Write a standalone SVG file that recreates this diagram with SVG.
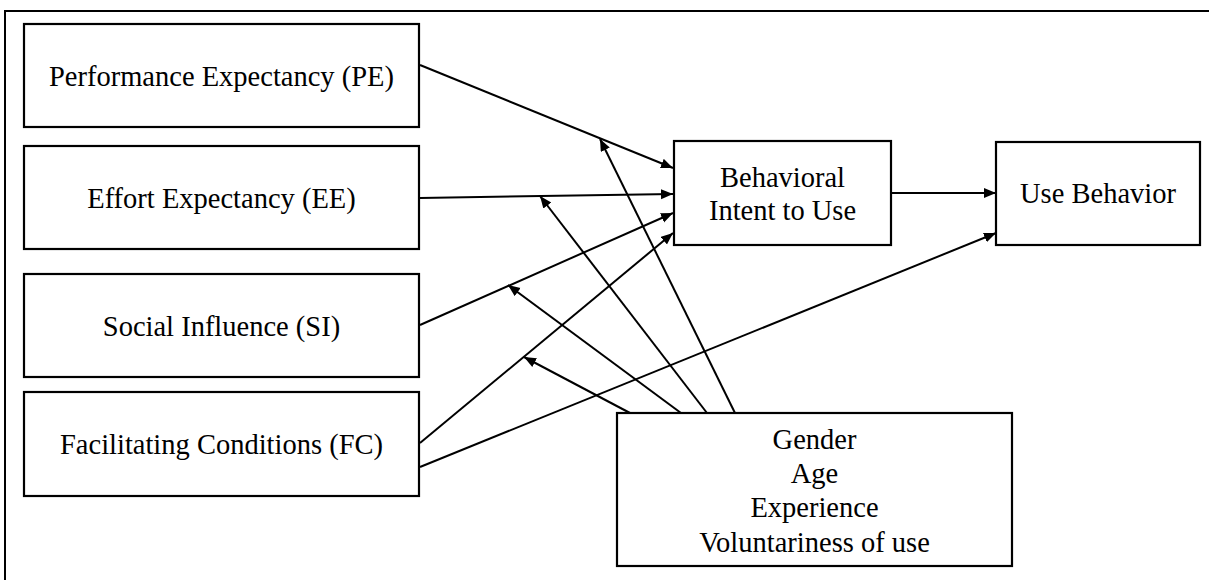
<svg xmlns="http://www.w3.org/2000/svg" width="1209" height="580" viewBox="0 0 1209 580">
<style>
.box{fill:#fff;stroke:#000;stroke-width:2.2}
.t{font-family:'Liberation Serif','Times New Roman',Times,serif;font-size:28.5px;fill:#000;text-anchor:middle}
.c line{stroke:#000;stroke-width:2;marker-end:url(#ah)}
</style>
<defs>
<marker id="ah" markerUnits="userSpaceOnUse" markerWidth="13" markerHeight="11" refX="12" refY="5" orient="auto">
<path d="M0,0 L12,5 L0,10 z" fill="#000"/>
</marker>
</defs>
<rect width="1209" height="580" fill="#fff"/>
<rect id="frame" x="5" y="11" width="1230" height="600" fill="none" stroke="#000" stroke-width="2"/>
<g id="PE"><rect class="box" x="24" y="24" width="395" height="103"/><text class="t" x="221.5" y="86">Performance Expectancy (PE)</text></g>
<g id="EE"><rect class="box" x="24" y="146" width="395" height="103"/><text class="t" x="221.5" y="208">Effort Expectancy (EE)</text></g>
<g id="SI"><rect class="box" x="24" y="274" width="395" height="103"/><text class="t" x="221.5" y="336">Social Influence (SI)</text></g>
<g id="FC"><rect class="box" x="24" y="392" width="395" height="104"/><text class="t" x="221.5" y="454">Facilitating Conditions (FC)</text></g>
<g id="BI"><rect class="box" x="674" y="141" width="217" height="104"/><text class="t" x="782.5" y="187">Behavioral</text><text class="t" x="782.5" y="220">Intent to Use</text></g>
<g id="UB"><rect class="box" x="996" y="142" width="204" height="103"/><text class="t" x="1098" y="203">Use Behavior</text></g>
<g id="MOD"><rect class="box" x="617" y="413" width="395" height="153"/><text class="t" x="814.5" y="449">Gender</text><text class="t" x="814.5" y="483">Age</text><text class="t" x="814.5" y="517">Experience</text><text class="t" x="814.5" y="552">Voluntariness of use</text></g>
<g id="connectors" class="c">
<line x1="420" y1="65" x2="673" y2="168"/>
<line x1="420" y1="198" x2="673" y2="194"/>
<line x1="420" y1="325" x2="673" y2="213"/>
<line x1="420" y1="443" x2="673" y2="233"/>
<line x1="420" y1="467" x2="996" y2="233"/>
<line x1="891" y1="193" x2="996" y2="193"/>
<line x1="630" y1="413" x2="524" y2="357"/>
<line x1="681" y1="413" x2="508" y2="285"/>
<line x1="707" y1="413" x2="540" y2="196"/>
<line x1="735" y1="413" x2="600" y2="139"/>
</g>
</svg>
